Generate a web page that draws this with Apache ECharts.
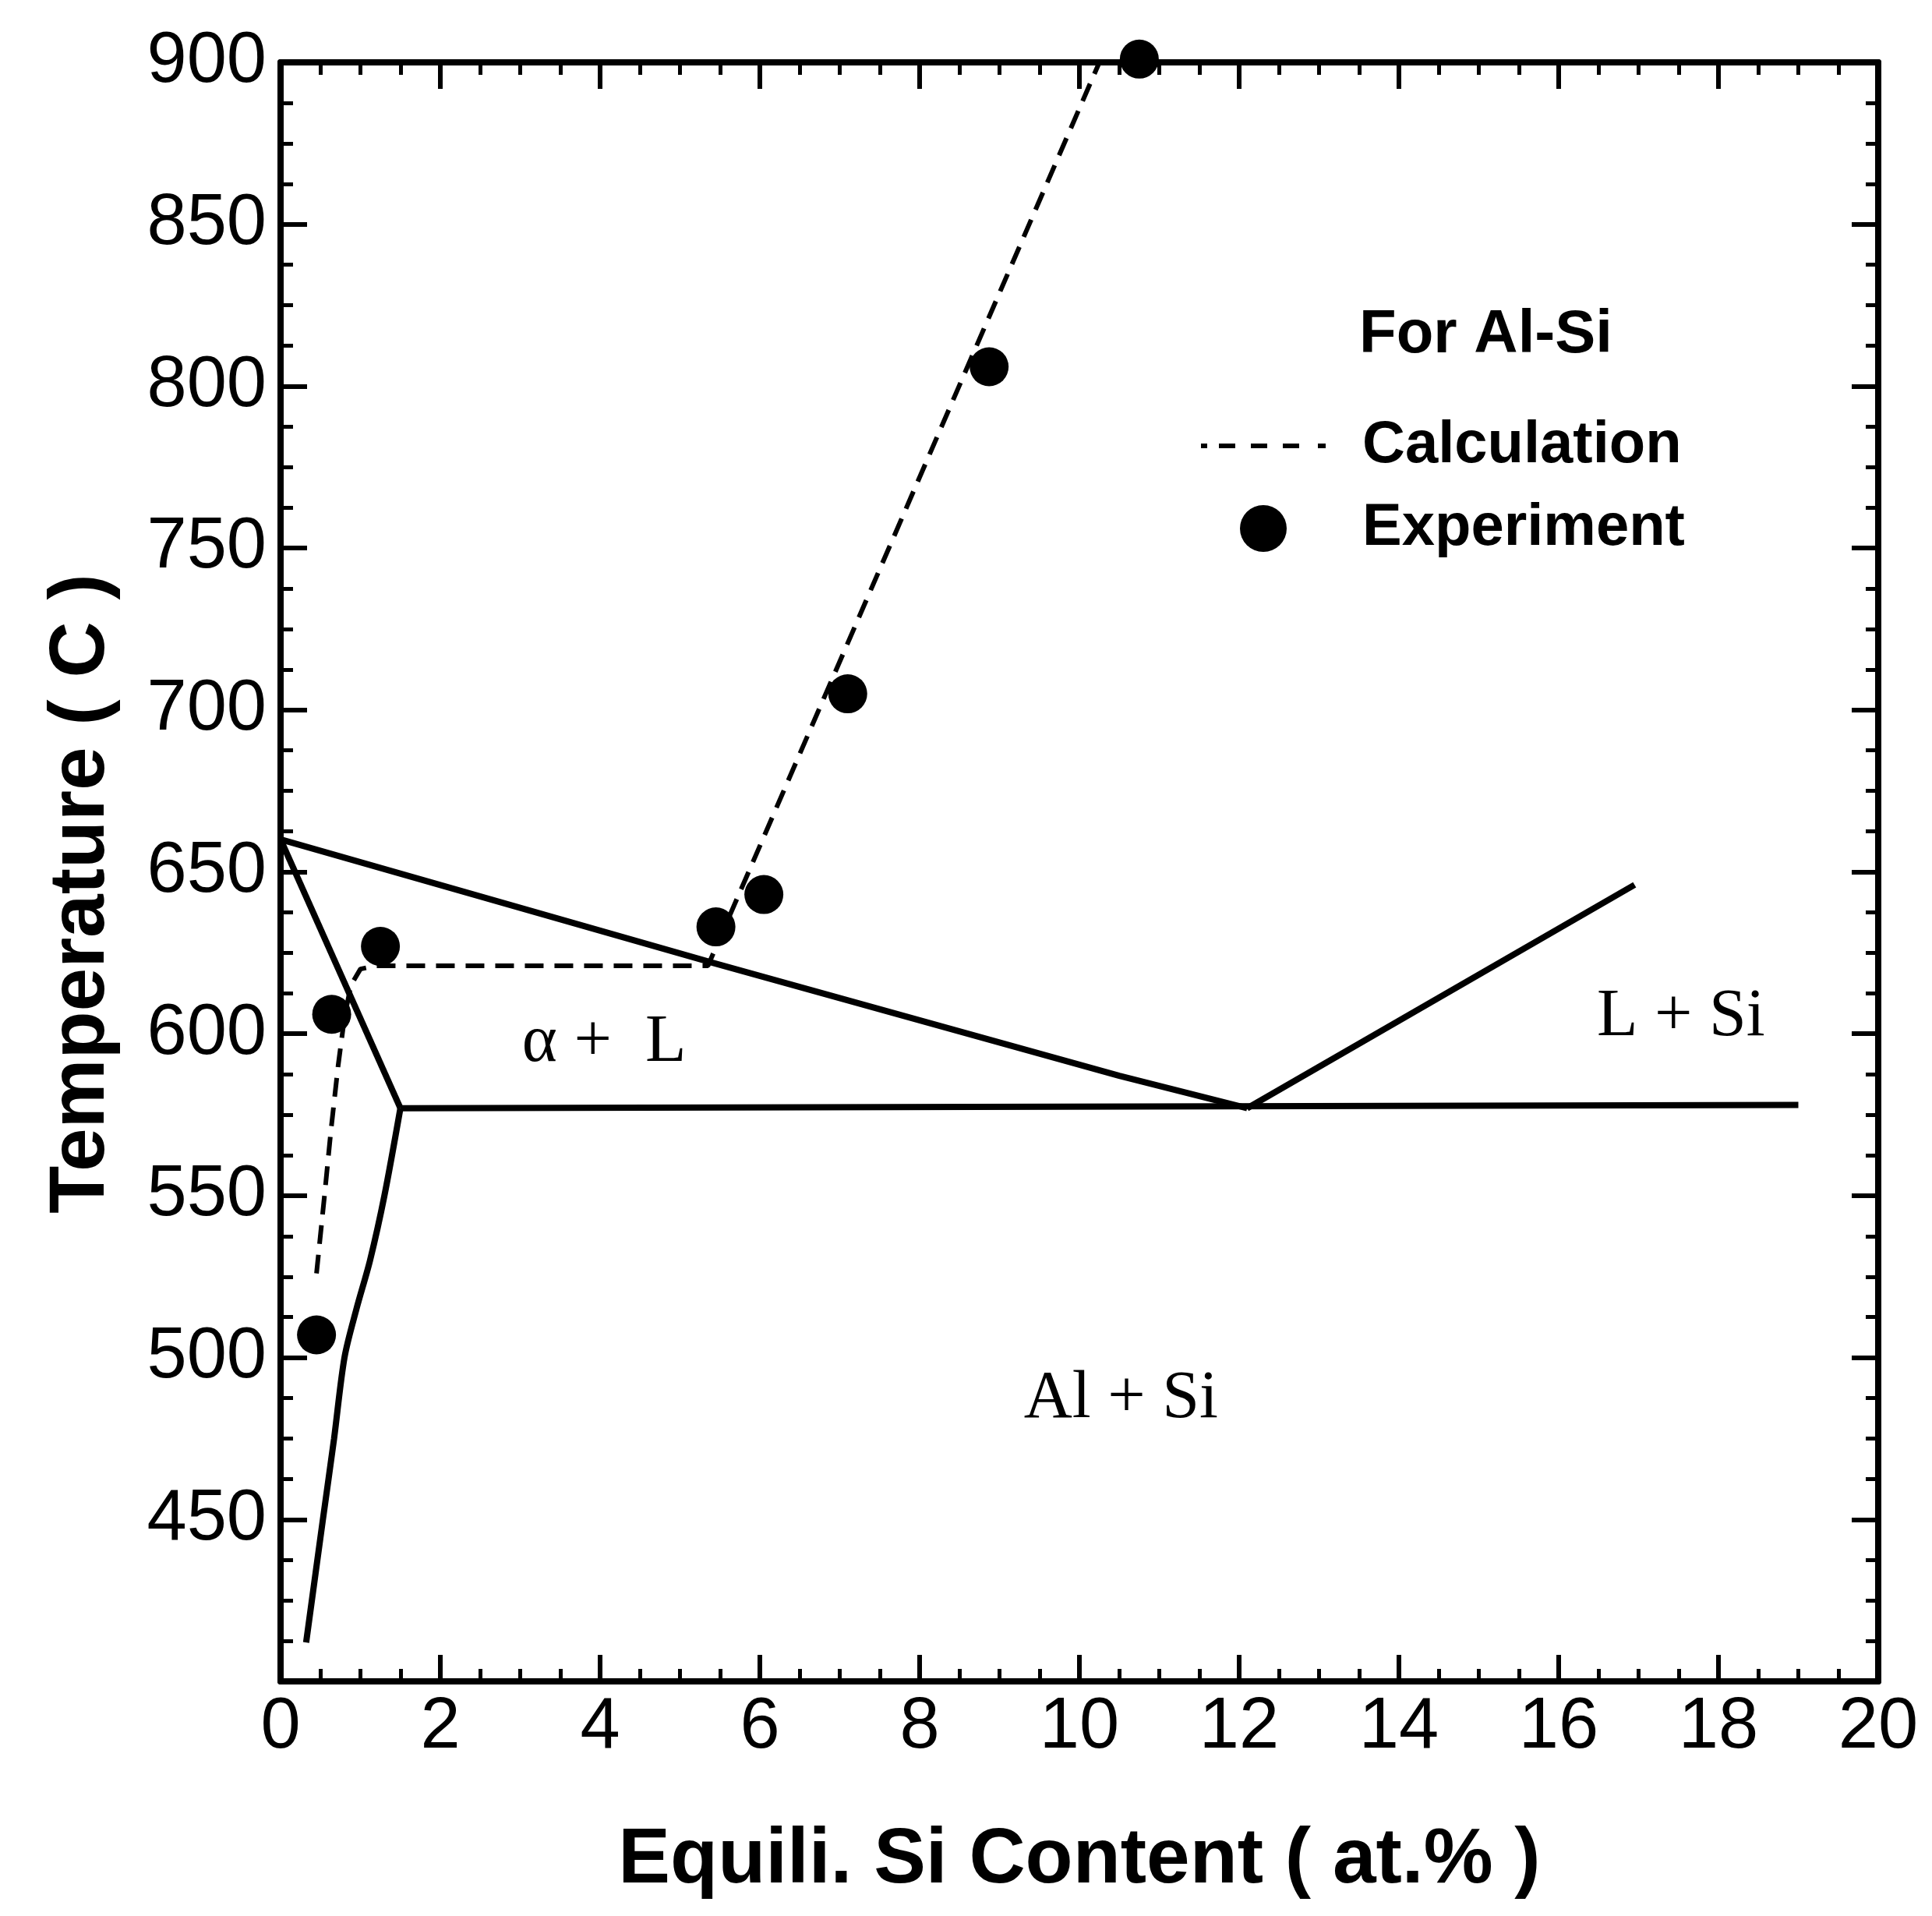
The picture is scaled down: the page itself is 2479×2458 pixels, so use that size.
<!DOCTYPE html>
<html><head><meta charset="utf-8">
<script src="https://cdn.jsdelivr.net/npm/echarts@6/dist/echarts.min.js"></script>
<style>html,body{margin:0;padding:0;background:#fff}#c{width:2479px;height:2458px}</style>
</head><body><div id="c"></div>
<script>
// ---- data (Si content at.%, temperature C) ----
const liquidusAl = [[0,660],[5.4,622],[10.5,587],[12.1,577]];
const solidus = [[0,660],[1.5,577]];
const solvus = [[1.5,577],[1.3,550],[1.12,530],[0.95,515],[0.8,500],[0.67,475],[0.53,450],[0.32,412]];
const eutectic = [[1.5,577],[19.0,578]];
const liquidusSi = [[12.1,577],[16.95,646]];
const calculation = [[0.45,526],[0.55,550],[0.63,570],[0.72,590],[0.8,605],[0.88,615],[1.0,620],[1.2,621],[5.35,621],[10.25,900]];
const experiment = [[0.45,507],[0.64,606],[1.25,627],[5.45,633],[6.05,643],[7.1,705],[8.87,806],[10.75,901]];
const regionLabels = [[4.05,597,'α +  L'],[17.53,605,'L + Si'],[10.52,487,'Al + Si']];
const xRange = [0, 20, 2];
const yRange = [400, 900, 50];

const SANS = 'Liberation Sans, Arial, Helvetica, sans-serif';
const SERIF = 'Liberation Serif, Times New Roman, serif';

const axisCommon = {
  type: 'value',
  axisLine: {show: true, onZero: false, lineStyle: {color: '#000', width: 8}},
  axisTick: {show: true, inside: true, length: 34, lineStyle: {color: '#000', width: 6}},
  minorTick: {show: true, splitNumber: 4, length: 16, lineStyle: {color: '#000', width: 5}},
  splitLine: {show: false},
  minorSplitLine: {show: false}
};
const tickFont = {fontFamily: SANS, fontSize: 92, color: '#000'};
const nameFont = {fontFamily: SANS, fontSize: 100, fontWeight: 'bold', color: '#000'};

function solid(data, smooth) {
  return {type: 'line', data: data, symbol: 'none', showSymbol: false, silent: true, smooth: smooth || false,
    lineStyle: {color: '#000', width: 8}, z: 3};
}

const dashIcon = 'path://M0,0h8v6h-8z M23,0h21v6h-21z M64,0h21v6h-21z M105,0h21v6h-21z M150,0h10v6h-10z';

const chart = echarts.init(document.getElementById('c'), null, {renderer: 'canvas'});
chart.setOption({
  animation: false,
  backgroundColor: '#fff',
  grid: {left: 360, top: 80, width: 2050, height: 2077, containLabel: false},
  title: {text: 'For Al-Si', left: 1739, top: 386,
    textStyle: {fontFamily: SANS, fontSize: 78, fontWeight: 'bold', color: '#000'}},
  legend: {
    data: [{name: 'Calculation', icon: dashIcon, itemStyle: {color: '#000', opacity: 1}},
           {name: 'Experiment', icon: 'circle', itemStyle: {color: '#000', opacity: 1}}],
    orient: 'vertical', left: 1536, top: 529,
    itemWidth: 160, itemHeight: 60, itemGap: 30, selectedMode: false,
    textStyle: {fontFamily: SANS, fontSize: 76, fontWeight: 'bold', color: '#000', padding: [0, 0, 0, 42]}
  },
  xAxis: [
    Object.assign({}, axisCommon, {min: xRange[0], max: xRange[1], interval: xRange[2], position: 'bottom',
      axisLabel: Object.assign({margin: 14}, tickFont),
      name: 'Equili. Si Content ( at.% )', nameLocation: 'middle', nameGap: 180, nameTextStyle: nameFont}),
    Object.assign({}, axisCommon, {min: xRange[0], max: xRange[1], interval: xRange[2], position: 'top',
      axisLabel: {show: false}})
  ],
  yAxis: [
    Object.assign({}, axisCommon, {min: yRange[0], max: yRange[1], interval: yRange[2], position: 'left',
      axisLabel: Object.assign({margin: 18, showMinLabel: false, padding: [0, 0, 26, 0]}, tickFont),
      name: 'Temperature ( C )', nameLocation: 'middle', nameGap: 205,
      nameTextStyle: Object.assign({padding: [0, 56, 0, 0]}, nameFont)}),
    Object.assign({}, axisCommon, {min: yRange[0], max: yRange[1], interval: yRange[2], position: 'right',
      axisLabel: {show: false}})
  ],
  series: [
    solid(liquidusAl),
    solid(solidus),
    solid(solvus, 0.3),
    solid(eutectic),
    solid(liquidusSi),
    {name: 'Calculation', type: 'line', data: calculation, symbol: 'none', showSymbol: false, silent: true,
      lineStyle: {color: '#000', width: 6, type: [24, 14]}, itemStyle: {color: '#000'}, z: 4},
    {name: 'Experiment', type: 'scatter', data: experiment, symbol: 'circle', symbolSize: 50, clip: false,
      itemStyle: {color: '#000', opacity: 1}, z: 5},
    {type: 'scatter', data: regionLabels, symbolSize: 0, silent: true, clip: false,
      itemStyle: {opacity: 1},
      label: {show: true, position: 'inside', formatter: p => p.data[2],
        fontFamily: SERIF, fontSize: 86, color: '#000', opacity: 1}, z: 6}
  ]
});
</script></body></html>
